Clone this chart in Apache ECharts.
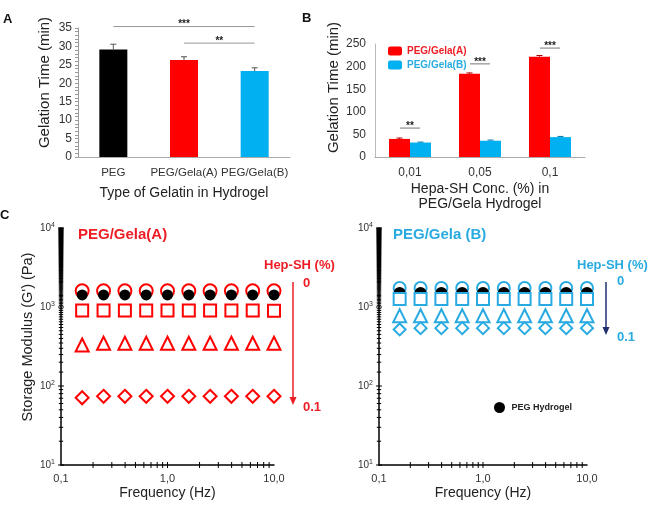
<!DOCTYPE html>
<html>
<head>
<meta charset="utf-8">
<script src="https://cdn.jsdelivr.net/npm/echarts@6/dist/echarts.min.js"></script>
<style>
html, body { margin: 0; padding: 0; background: #fff; }
#chart { width: 653px; height: 510px; }
</style>
</head>
<body>
<div id="chart"></div>
<script>
// ---- 面板 A：凝胶时间 ----
const typeNames = ['PEG', 'PEG/Gela(A)', 'PEG/Gela(B)']
const typeTimes = [29.2, 26.3, 23.3]
const typeErrors = [1.4, 0.9, 0.9]
const typeColors = ['#000000', '#ff0000', '#00b0f0']
// [起始类目, 结束类目, 高度]
const typeSig = [[0, 2, 35.4], [1, 2, 30.9]]
const typeSigText = ['***', '**']

// ---- 面板 B：不同 Hepa-SH 浓度 ----
const hepaConc = ['0,01', '0,05', '0,1']
const gelaATimes = [40, 184, 222]
const gelaAErrors = [2, 2, 2.5]
const gelaBTimes = [32, 36, 44]
const gelaBErrors = [1, 1.5, 1.5]
const hepaSig = [[0, 64], [1, 206], [2, 241]]
const hepaSigText = ['**', '***', '***']

// ---- 面板 C：储能模量 ----
const freq = [0.158, 0.251, 0.398, 0.631, 1.0, 1.585, 2.512, 3.981, 6.31, 10.0]
const pegA = [1420, 1420, 1420, 1420, 1420, 1420, 1420, 1420, 1420, 1420]
const gelaA_0 = [1600, 1600, 1600, 1600, 1600, 1600, 1600, 1600, 1600, 1600]
const gelaA_001 = [900, 900, 905, 905, 905, 905, 905, 905, 905, 895]
const gelaA_005 = [330, 347, 347, 347, 347, 347, 347, 347, 347, 347]
const gelaA_01 = [71, 74, 74, 74, 74, 74, 74, 74, 74, 74]
const pegB = [1500, 1500, 1500, 1500, 1500, 1500, 1500, 1500, 1500, 1500]
const gelaB_0 = [1740, 1740, 1740, 1740, 1740, 1740, 1740, 1740, 1740, 1740]
const gelaB_001 = [1260, 1260, 1260, 1260, 1260, 1260, 1260, 1260, 1260, 1260]
const gelaB_005 = [776, 776, 776, 776, 776, 776, 776, 776, 776, 776]
const gelaB_01 = [520, 540, 540, 540, 540, 540, 540, 540, 540, 540]

// 对数坐标轴刻度
const freqMin = 0.1
const freqMax = 10
const modMin = 10
const modMax = 10000
const freqMinor = [0.2, 0.3, 0.4, 0.5, 0.6, 0.7, 0.8, 0.9, 1, 2, 3, 4, 5, 6, 7, 8, 9]
const modMajor = [10, 100, 1000, 10000]
// 每个十进位内次刻度的步长（占该十进位起点的比例）
const modMinorStep = [1, 0.5, 0.05]

const FONT = 'Liberation Sans, Arial, sans-serif'
const RED = '#ff0000'
const RED_TXT = '#ee1c25'
const BLUE = '#29abe2'
const BAR_B = 21 // 面板 B 单个柱宽

const modMinor = []
modMajor.slice(0, 3).forEach((d, i) => {
  const step = modMinorStep[i] * d
  for (let v = d + step; v < d * 10 - 1e-6; v += step) {
    modMinor.push(v)
  }
})

const toPts = (arr) => freq.map((f, i) => [f, arr[i]])

const chart = echarts.init(document.getElementById('chart'))

// 误差线
const errorBar = (offset, color) => (params, api) => {
  const top = api.coord([api.value(0), api.value(1) + api.value(2)])
  const base = api.coord([api.value(0), api.value(1)])
  const cx = top[0] + offset
  const st = { stroke: color, lineWidth: 1 }
  return {
    type: 'group',
    children: [
      { type: 'line', shape: { x1: cx, y1: top[1], x2: cx, y2: base[1] }, style: st },
      { type: 'line', shape: { x1: cx - 3, y1: top[1], x2: cx + 3, y2: top[1] }, style: st }
    ]
  }
}

const starText = (text, x, y) => ({
  type: 'text',
  style: {
    text, x, y: y + 3, align: 'center', verticalAlign: 'bottom',
    font: 'bold 10px ' + FONT, fill: '#222'
  }
})

// 对数轴刻度（跨轴线），主刻度稍长
const yTicks = (params, api) => {
  const v = api.value(0)
  const p = api.coord([freqMin, v])
  const len = modMajor.indexOf(v) >= 0 ? 3 : 2.2
  return { type: 'line', shape: { x1: p[0] - len, y1: p[1], x2: p[0] + len, y2: p[1] }, style: { stroke: '#000', lineWidth: 1 } }
}
const xTicks = (params, api) => {
  const p = api.coord([api.value(0), modMin])
  return { type: 'line', shape: { x1: p[0], y1: p[1] - 3, x2: p[0], y2: p[1] + 3 }, style: { stroke: '#000', lineWidth: 1 } }
}

const supLabel = {
  fontSize: 10,
  color: '#333',
  margin: 6,
  lineHeight: 12,
  formatter: (v) => '10{s|' + Math.round(Math.log10(v)) + '}',
  rich: { s: { fontSize: 7, lineHeight: 7, verticalAlign: 'top', color: '#333' } }
}

const logX = (gi) => ({
  type: 'log', logBase: 10, gridIndex: gi, min: freqMin, max: freqMax,
  name: 'Frequency (Hz)', nameLocation: 'middle', nameGap: 21,
  nameTextStyle: { fontSize: 14, color: '#222' },
  axisLine: { lineStyle: { color: '#000', width: 1.5 } },
  axisTick: { show: false },
  splitLine: { show: false },
  minorTick: { show: false },
  axisLabel: { fontSize: 11, color: '#333', margin: 8, formatter: (v) => v.toFixed(1).replace('.', ',') }
})
const logY = (gi, withName) => ({
  type: 'log', logBase: 10, gridIndex: gi, min: modMin, max: modMax,
  name: withName ? "Storage Modulus (G') (Pa)" : '', nameLocation: 'middle', nameGap: 26,
  nameTextStyle: { fontSize: 14.5, color: '#222', padding: [0, 0, 0, 19] },
  axisLine: { lineStyle: { color: '#000', width: 1.5 } },
  axisTick: { show: false },
  splitLine: { show: false },
  axisLabel: supLabel
})

const scatter = (name, gi, arr, symbol, size, color, fill, z) => ({
  name, type: 'scatter', xAxisIndex: gi, yAxisIndex: gi,
  data: toPts(arr), symbol, symbolSize: size, z,
  itemStyle: { opacity: 1, color: fill, borderColor: color, borderWidth: fill === color ? 0 : 2 }
})

const option = {
  animation: false,
  textStyle: { fontFamily: FONT },
  grid: [
    { left: 78, top: 28, width: 212, height: 129 },
    { left: 375, top: 44, width: 210, height: 113 },
    { left: 61, top: 228, width: 213, height: 237 },
    { left: 379, top: 228, width: 208, height: 237 }
  ],
  legend: [
    {
      orient: 'vertical', left: 383, top: 41, itemWidth: 14, itemHeight: 9, itemGap: 4,
      selectedMode: false,
      textStyle: { fontSize: 10, fontWeight: 'bold' },
      data: [
        { name: 'PEG/Gela(A)', textStyle: { color: RED_TXT } },
        { name: 'PEG/Gela(B)', textStyle: { color: BLUE } }
      ]
    },
    {
      left: 489, top: 397, itemWidth: 14, itemHeight: 11, selectedMode: false,
      textStyle: { fontSize: 9, fontWeight: 'bold', color: '#222' },
      data: [{ name: 'PEG Hydrogel', icon: 'circle' }]
    }
  ],
  xAxis: [
    {
      type: 'category', gridIndex: 0, data: typeNames,
      name: 'Type of Gelatin in Hydrogel', nameLocation: 'middle', nameGap: 29,
      nameTextStyle: { fontSize: 14, color: '#222' },
      axisLine: { lineStyle: { color: '#aaa' } },
      axisTick: { show: false },
      axisLabel: { fontSize: 11.5, color: '#333', margin: 10, interval: 0 }
    },
    {
      type: 'category', gridIndex: 1, data: hepaConc,
      name: 'Hepa-SH Conc. (%) in\nPEG/Gela Hydrogel', nameLocation: 'middle', nameGap: 25,
      nameTextStyle: { fontSize: 14, color: '#222', lineHeight: 15 },
      axisLine: { lineStyle: { color: '#aaa' } },
      axisTick: { show: false },
      axisLabel: { fontSize: 12, color: '#333', margin: 10 }
    },
    logX(2),
    logX(3)
  ],
  yAxis: [
    {
      type: 'value', gridIndex: 0, min: 0, max: 35, interval: 5,
      name: 'Gelation Time (min)', nameLocation: 'middle', nameGap: 26,
      nameTextStyle: { fontSize: 15, color: '#222', padding: [0, 0, 0, 20] },
      axisLine: { show: true, lineStyle: { color: '#999' } },
      axisTick: { show: true, length: 3, lineStyle: { color: '#999' } },
      minorTick: { show: true, splitNumber: 5, length: 3, lineStyle: { color: '#999' } },
      splitLine: { show: false },
      axisLabel: { fontSize: 12, color: '#333', margin: 6 }
    },
    {
      type: 'value', gridIndex: 1, min: 0, max: 250, interval: 50,
      name: 'Gelation Time (min)', nameLocation: 'middle', nameGap: 34,
      nameTextStyle: { fontSize: 15, color: '#222', padding: [0, 0, 0, 26] },
      axisLine: { show: true, lineStyle: { color: '#bbb' } },
      axisTick: { show: false },
      splitLine: { show: false },
      axisLabel: { fontSize: 12, color: '#333', margin: 9 }
    },
    logY(2, true),
    logY(3, false)
  ],
  series: [
    // 面板 A
    {
      type: 'bar', xAxisIndex: 0, yAxisIndex: 0, barWidth: 28,
      data: typeTimes.map((v, i) => ({ value: v, itemStyle: { color: typeColors[i] } }))
    },
    {
      type: 'custom', xAxisIndex: 0, yAxisIndex: 0, z: 5,
      data: typeTimes.map((v, i) => [i, v, typeErrors[i]]),
      renderItem: errorBar(0, '#555')
    },
    {
      type: 'custom', xAxisIndex: 0, yAxisIndex: 0, clip: false, z: 5,
      data: typeSig,
      renderItem: (params, api) => {
        const a = api.coord([api.value(0), api.value(2)])
        const b = api.coord([api.value(1), api.value(2)])
        return {
          type: 'group',
          children: [
            { type: 'line', shape: { x1: a[0], y1: a[1], x2: b[0], y2: b[1] }, style: { stroke: '#999', lineWidth: 1 } },
            starText(typeSigText[params.dataIndex], (a[0] + b[0]) / 2, a[1])
          ]
        }
      }
    },
    // 面板 B
    {
      name: 'PEG/Gela(A)', type: 'bar', xAxisIndex: 1, yAxisIndex: 1,
      barWidth: BAR_B, barGap: '0%', itemStyle: { color: RED }, data: gelaATimes
    },
    {
      name: 'PEG/Gela(B)', type: 'bar', xAxisIndex: 1, yAxisIndex: 1,
      barWidth: BAR_B, barGap: '0%', itemStyle: { color: '#00b0f0' }, data: gelaBTimes
    },
    {
      type: 'custom', xAxisIndex: 1, yAxisIndex: 1, z: 5,
      data: gelaATimes.map((v, i) => [i, v, gelaAErrors[i]]),
      renderItem: errorBar(-BAR_B / 2, '#a00')
    },
    {
      type: 'custom', xAxisIndex: 1, yAxisIndex: 1, z: 5,
      data: gelaBTimes.map((v, i) => [i, v, gelaBErrors[i]]),
      renderItem: errorBar(BAR_B / 2, '#0077aa')
    },
    {
      type: 'custom', xAxisIndex: 1, yAxisIndex: 1, clip: false, z: 5,
      data: hepaSig,
      renderItem: (params, api) => {
        const p = api.coord([api.value(0), api.value(1)])
        return {
          type: 'group',
          children: [
            { type: 'line', shape: { x1: p[0] - 10, y1: p[1], x2: p[0] + 10, y2: p[1] }, style: { stroke: '#777', lineWidth: 1 } },
            starText(hepaSigText[params.dataIndex], p[0], p[1])
          ]
        }
      }
    },
    // 面板 C 左：PEG/Gela(A)
    { type: 'custom', xAxisIndex: 2, yAxisIndex: 2, clip: false, z: 4, data: modMajor.concat(modMinor), encode: { y: 0 }, renderItem: yTicks },
    { type: 'custom', xAxisIndex: 2, yAxisIndex: 2, clip: false, z: 4, data: freqMinor, encode: { x: 0 }, renderItem: xTicks },
    scatter('PEG/Gela(A) 0', 2, gelaA_0, 'circle', 13, RED, '#fff', 2),
    scatter('PEG Hydrogel', 2, pegA, 'circle', 11, '#000', '#000', 3),
    scatter('PEG/Gela(A) 0.01', 2, gelaA_001, 'rect', 12, RED, '#fff', 2),
    scatter('PEG/Gela(A) 0.05', 2, gelaA_005, 'triangle', 13, RED, '#fff', 2),
    scatter('PEG/Gela(A) 0.1', 2, gelaA_01, 'diamond', 13, RED, '#fff', 2),
    // 面板 C 右：PEG/Gela(B)
    { type: 'custom', xAxisIndex: 3, yAxisIndex: 3, clip: false, z: 4, data: modMajor.concat(modMinor), encode: { y: 0 }, renderItem: yTicks },
    { type: 'custom', xAxisIndex: 3, yAxisIndex: 3, clip: false, z: 4, data: freqMinor, encode: { x: 0 }, renderItem: xTicks },
    scatter('PEG/Gela(B) 0', 3, gelaB_0, 'circle', 12, BLUE, '#fff', 2),
    scatter('PEG Hydrogel', 3, pegB, 'circle', 12, '#000', '#000', 3),
    scatter('PEG/Gela(B) 0.01', 3, gelaB_001, 'rect', 12, BLUE, '#fff', 4),
    scatter('PEG/Gela(B) 0.05', 3, gelaB_005, 'triangle', 13, BLUE, '#fff', 2),
    scatter('PEG/Gela(B) 0.1', 3, gelaB_01, 'diamond', 12, BLUE, '#fff', 2)
  ],
  graphic: [
    { type: 'text', left: 3, top: 13, style: { text: 'A', font: 'bold 13px ' + FONT, fill: '#111' } },
    { type: 'text', left: 302, top: 12, style: { text: 'B', font: 'bold 13px ' + FONT, fill: '#111' } },
    { type: 'text', left: 0, top: 209, style: { text: 'C', font: 'bold 13px ' + FONT, fill: '#111' } },
    { type: 'text', left: 78, top: 227, style: { text: 'PEG/Gela(A)', font: 'bold 15px ' + FONT, fill: RED_TXT } },
    { type: 'text', left: 393, top: 227, style: { text: 'PEG/Gela (B)', font: 'bold 15px ' + FONT, fill: BLUE } },
    { type: 'text', left: 264, top: 259, style: { text: 'Hep-SH (%)', font: 'bold 13px ' + FONT, fill: RED_TXT } },
    { type: 'text', left: 303, top: 277, style: { text: '0', font: 'bold 13px ' + FONT, fill: RED_TXT } },
    { type: 'text', left: 303, top: 401, style: { text: '0.1', font: 'bold 13px ' + FONT, fill: RED_TXT } },
    { type: 'line', shape: { x1: 293, y1: 282, x2: 293, y2: 398 }, style: { stroke: RED_TXT, lineWidth: 1.5 } },
    { type: 'polygon', shape: { points: [[289.5, 397], [296.5, 397], [293, 405]] }, style: { fill: RED_TXT } },
    { type: 'text', left: 577, top: 259, style: { text: 'Hep-SH (%)', font: 'bold 13px ' + FONT, fill: BLUE } },
    { type: 'text', left: 617, top: 275, style: { text: '0', font: 'bold 13px ' + FONT, fill: BLUE } },
    { type: 'text', left: 617, top: 331, style: { text: '0.1', font: 'bold 13px ' + FONT, fill: BLUE } },
    { type: 'line', shape: { x1: 606, y1: 282, x2: 606, y2: 328 }, style: { stroke: '#1f2f6e', lineWidth: 1.5 } },
    { type: 'polygon', shape: { points: [[602.5, 327], [609.5, 327], [606, 335]] }, style: { fill: '#1f2f6e' } }
  ]
}

chart.setOption(option)
</script>
</body>
</html>
